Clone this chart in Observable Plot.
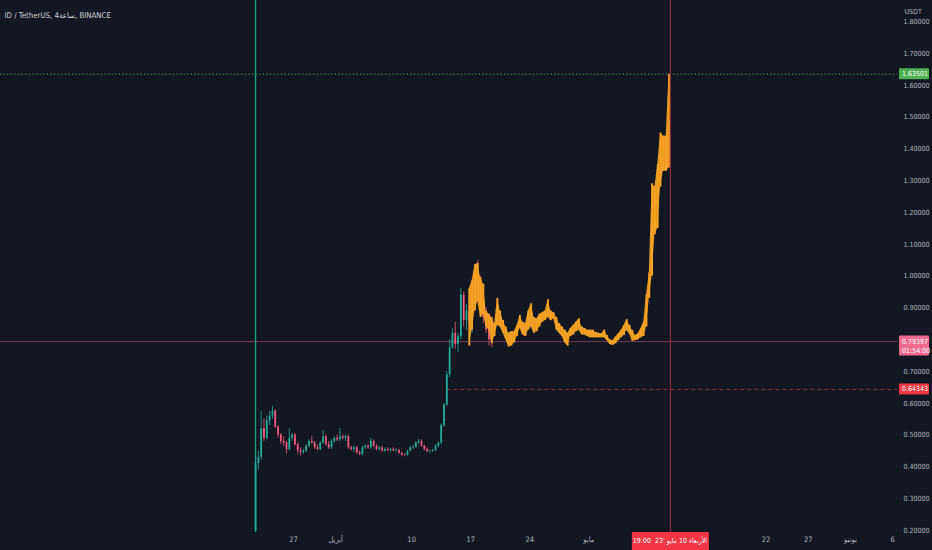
<!DOCTYPE html>
<html>
<head>
<meta charset="utf-8">
<script src="https://cdn.jsdelivr.net/npm/d3@7"></script>
<script src="https://cdn.jsdelivr.net/npm/@observablehq/plot@0.6"></script>
<style>
  body { margin: 0; background: #131722; }
  #chart svg { display: block; }
</style>
</head>
<body>
<div id="chart"></div>
<script>
// ID / USDT, one candle every 8 hours
const barStart = Date.UTC(2023, 2, 22, 12);
const barStep = 8 * 3600e3;

// open of each bar is the close of the one before (first open = listing price)
const firstOpen = 0.2;
const closes = [
  0.41, 0.43, 0.52, 0.49, 0.545, 0.56, 0.575, 0.525, 0.50, 0.48,
  0.475, 0.455, 0.49, 0.50, 0.47, 0.45, 0.445, 0.45, 0.465, 0.48,
  0.475, 0.46, 0.455, 0.475, 0.495, 0.47, 0.46, 0.48, 0.49, 0.485,
  0.495, 0.49, 0.495, 0.46, 0.455, 0.46, 0.445, 0.44, 0.46, 0.465,
  0.46, 0.48, 0.465, 0.455, 0.46, 0.45, 0.455, 0.452, 0.455, 0.45,
  0.452, 0.443, 0.437, 0.436, 0.45, 0.46, 0.462, 0.475, 0.48, 0.465,
  0.455, 0.448, 0.45, 0.452, 0.465, 0.475, 0.53, 0.595, 0.69, 0.775,
  0.82, 0.785, 0.81, 0.94, 0.86, 0.89, 0.85, 0.93, 1.0, 0.97,
  0.92, 0.87, 0.83, 0.80, 0.794
];
const highs = [
  0.44, 0.45, 0.575, 0.55, 0.56, 0.575, 0.59, 0.58, 0.53, 0.505,
  0.495, 0.48, 0.52, 0.505, 0.505, 0.475, 0.46, 0.455, 0.47, 0.485,
  0.495, 0.48, 0.47, 0.48, 0.515, 0.50, 0.48, 0.485, 0.495, 0.50,
  0.52, 0.50, 0.50, 0.50, 0.465, 0.465, 0.465, 0.45, 0.465, 0.47,
  0.47, 0.49, 0.485, 0.47, 0.465, 0.465, 0.46, 0.46, 0.458, 0.46,
  0.457, 0.455, 0.447, 0.442, 0.452, 0.465, 0.468, 0.48, 0.487, 0.485,
  0.468, 0.46, 0.452, 0.455, 0.47, 0.478, 0.535, 0.60, 0.70, 0.80,
  0.835, 0.855, 0.82, 0.96, 0.95, 0.91, 0.93, 0.94, 1.035, 1.05,
  1.0, 0.93, 0.90, 0.86, 0.83
];
const lows = [
  0.195, 0.39, 0.42, 0.48, 0.485, 0.53, 0.55, 0.52, 0.49, 0.47,
  0.465, 0.44, 0.45, 0.48, 0.465, 0.44, 0.435, 0.44, 0.445, 0.46,
  0.47, 0.455, 0.45, 0.45, 0.47, 0.465, 0.455, 0.455, 0.475, 0.48,
  0.48, 0.485, 0.48, 0.455, 0.45, 0.445, 0.44, 0.435, 0.435, 0.455,
  0.455, 0.455, 0.46, 0.45, 0.45, 0.445, 0.445, 0.448, 0.445, 0.447,
  0.446, 0.44, 0.433, 0.432, 0.434, 0.447, 0.455, 0.458, 0.47, 0.462,
  0.45, 0.445, 0.444, 0.445, 0.448, 0.46, 0.47, 0.525, 0.59, 0.68,
  0.77, 0.77, 0.76, 0.80, 0.84, 0.83, 0.83, 0.82, 0.90, 0.95,
  0.90, 0.85, 0.82, 0.78, 0.775
];

// orange "bars pattern" drawing, 8h bars, high / low only
const patternStart = Date.UTC(2023, 3, 16, 20);
const patternHighs = [
  0.96, 0.985, 1.035, 1.04, 0.995, 0.975, 0.89, 0.88, 0.87, 0.85,
  0.93, 0.89, 0.86, 0.84, 0.82, 0.825, 0.825, 0.845, 0.876, 0.855,
  0.85, 0.89, 0.913, 0.87, 0.865, 0.88, 0.885, 0.89, 0.926, 0.89,
  0.885, 0.87, 0.85, 0.84, 0.83, 0.82, 0.835, 0.845, 0.855, 0.866,
  0.84, 0.835, 0.83, 0.83, 0.83, 0.823, 0.82, 0.818, 0.83, 0.813,
  0.80, 0.797, 0.808, 0.818, 0.829, 0.845, 0.863, 0.845, 0.829, 0.813,
  0.818, 0.835, 0.855, 0.94, 1.01, 1.29, 1.28, 1.35, 1.45, 1.44,
  1.44, 1.635
];
const patternLows = [
  0.78, 0.83, 0.89, 0.92, 0.87, 0.88, 0.84, 0.83, 0.787, 0.81,
  0.845, 0.84, 0.82, 0.80, 0.777, 0.78, 0.79, 0.81, 0.835, 0.815,
  0.81, 0.83, 0.84, 0.82, 0.825, 0.84, 0.855, 0.86, 0.87, 0.86,
  0.865, 0.83, 0.82, 0.81, 0.79, 0.78, 0.81, 0.815, 0.825, 0.83,
  0.815, 0.815, 0.81, 0.806, 0.806, 0.806, 0.806, 0.806, 0.806, 0.797,
  0.785, 0.782, 0.787, 0.797, 0.806, 0.813, 0.829, 0.818, 0.795, 0.797,
  0.80, 0.806, 0.81, 0.84, 0.93, 1.0, 1.13, 1.15, 1.28, 1.33,
  1.33, 1.34
];

const priceTicks = [0.2, 0.3, 0.4, 0.5, 0.6, 0.7, 0.8, 0.9, 1.0, 1.1, 1.2, 1.3, 1.4, 1.5, 1.6, 1.7, 1.8];
const timeTicks = [
  [2023, 2, 27], [2023, 3, 1], [2023, 3, 10], [2023, 3, 17], [2023, 3, 24],
  [2023, 4, 1], [2023, 4, 22], [2023, 4, 27], [2023, 5, 1], [2023, 5, 6]
].map(([y, m, d]) => new Date(Date.UTC(y, m, d)));
const timeLabels = ["27", "أبريل", "10", "17", "24", "مايو", "22", "27", "يونيو", "6"];

const lastPrice = 0.79397;
const lastCountdown = "01:54:00";
const highLevel = 1.63501;
const rayLevel = 0.64343;
const rayStart = new Date(barStart + 68 * barStep);
const crosshair = new Date(Date.UTC(2023, 4, 10, 16));
const crosshairLabel = "الأربعاء 10 مايو '23  19:00";

const UP = "#22ab94", DOWN = "#f0587e", ORANGE = "#f7a325";
const FONT = "'Liberation Sans Narrow', 'DejaVu Sans Condensed', sans-serif";

let bars = closes.map((c, i) => ({
  date: new Date(barStart + i * barStep),
  open: i === 0 ? firstOpen : closes[i - 1],
  high: highs[i],
  low: lows[i],
  close: c
}));
let pattern = patternHighs.map((h, i) => ({
  date: new Date(patternStart + i * barStep),
  high: h,
  low: patternLows[i]
}));

const xDomain = [new Date(Date.UTC(2023, 1, 20, 6, 30)), new Date(Date.UTC(2023, 5, 6, 14))];
const labelOf = new Map(timeTicks.map((t, i) => [+t, timeLabels[i]]));

let chart = Plot.plot({
  width: 932,
  height: 550,
  marginTop: 0,
  marginRight: 35,
  marginBottom: 18,
  marginLeft: 0,
  style: {background: "#131722", color: "#b2b5be", fontFamily: FONT, fontSize: "7px"},
  x: {type: "utc", domain: xDomain},
  y: {domain: [0.1937, 1.8667]},
  marks: [
    Plot.axisX({ticks: timeTicks, tickFormat: d => labelOf.get(+d), tickSize: 0, tickPadding: 4, fill: "#b2b5be", fontSize: 7.5}),
    Plot.axisY({anchor: "right", ticks: priceTicks, tickFormat: d3.format(".5f"), tickSize: 0, tickPadding: 6, label: null, fill: "#b2b5be"}),
    Plot.text(["USDT"], {frameAnchor: "top-right", textAnchor: "start", dx: 7, dy: 9, fill: "#b2b5be"}),
    Plot.text(["ID / TetherUS, 4ساعة, BINANCE"], {frameAnchor: "top-left", textAnchor: "start", dx: 4, dy: 12, fill: "#d1d4dc", fontSize: 7.8}),
    Plot.ruleY([highLevel], {stroke: "#4caf50", strokeWidth: 1, strokeDasharray: "1.2,2.4"}),
    Plot.ruleY([lastPrice], {stroke: "#7a3a55", strokeWidth: 1}),
    Plot.ruleY([rayLevel], {x1: rayStart, x2: xDomain[1], stroke: "#8a2e3c", strokeWidth: 1, strokeDasharray: "4,3"}),
    Plot.ruleX([bars[0].date], {stroke: "#0fa884", strokeWidth: 1.3}),
    Plot.ruleX(bars, {x: "date", y1: "low", y2: "high", stroke: d => d.close >= d.open ? UP : DOWN, strokeWidth: 0.8}),
    Plot.ruleX(bars, {x: "date", y1: "open", y2: "close", stroke: d => d.close >= d.open ? UP : DOWN, strokeWidth: 1.8}),
    Plot.areaY(pattern, {x: "date", y1: "low", y2: "high", fill: ORANGE, fillOpacity: 0.92}),
    Plot.ruleX(pattern, {x: "date", y1: "low", y2: "high", stroke: ORANGE, strokeWidth: 1.8}),
    Plot.ruleX([crosshair], {stroke: "#a8283a", strokeWidth: 1})
  ]
});

// price badges on the scale and the crosshair date badge
const x = chart.scale("x"), y = chart.scale("y");
const svg = d3.select(chart);

function badge(value, color, lines) {
  const cy = y.apply(value);
  const g = svg.append("g").attr("font-family", FONT).attr("font-size", 7).attr("text-anchor", "start");
  g.append("rect").attr("x", 899).attr("y", cy - 5.5).attr("width", 30)
    .attr("height", 11 + (lines.length - 1) * 9).attr("rx", 1).attr("fill", color);
  lines.forEach((t, i) => g.append("text").attr("x", 902).attr("y", cy + i * 9)
    .attr("dy", "0.35em").attr("fill", "#ffffff").text(t));
}
badge(highLevel, "#4caf50", [d3.format(".5f")(highLevel)]);
badge(lastPrice, "#f06a8f", [d3.format(".5f")(lastPrice), lastCountdown]);
badge(rayLevel, "#f23645", [d3.format(".5f")(rayLevel)]);

const cx = x.apply(crosshair);
const tg = svg.append("g").attr("font-family", FONT).attr("font-size", 7);
tg.append("rect").attr("x", cx - 38).attr("y", 532).attr("width", 77).attr("height", 18).attr("fill", "#f23645");
tg.append("text").attr("x", cx).attr("y", 541).attr("dy", "0.35em").attr("text-anchor", "middle")
  .attr("direction", "rtl").attr("fill", "#ffffff").text(crosshairLabel);

d3.select("#chart").append(() => chart);
</script>
</body>
</html>
